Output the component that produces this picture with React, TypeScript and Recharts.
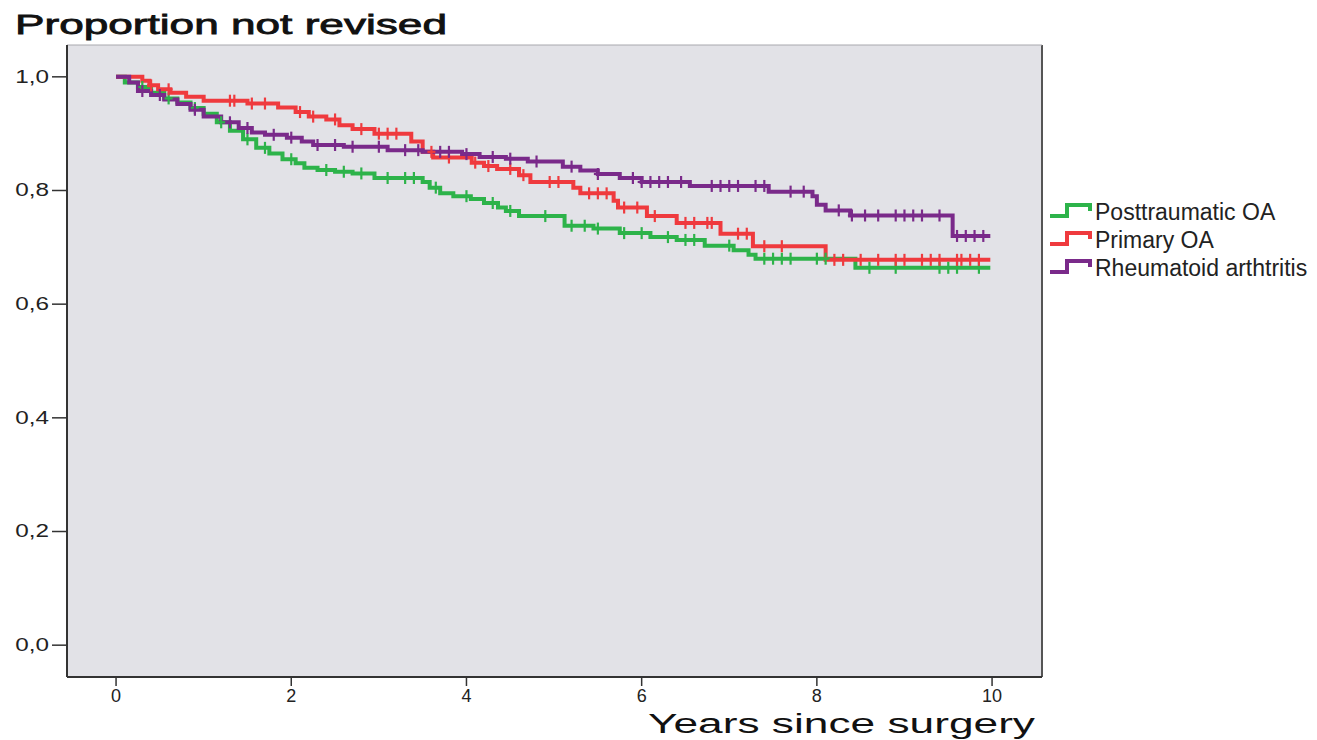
import React from "react";
import {
  ComposedChart,
  Line,
  Scatter,
  XAxis,
  YAxis,
  CartesianGrid,
  ReferenceLine,
} from "recharts";

// Kaplan-Meier steps: time of each drop (years) and survival after it
const ptTimes = [0, 0.1, 0.25, 0.4, 0.55, 0.7, 0.85, 1.0, 1.15, 1.3, 1.45, 1.6, 1.75, 1.9, 2.05, 2.15, 2.3, 2.5, 2.7, 2.95, 3.5, 3.58, 3.7, 3.85, 4.05, 4.2, 4.36, 4.45, 4.6, 5.12, 5.45, 5.75, 6.1, 6.4, 6.72, 7.05, 7.22, 7.3, 8.44];
const ptSurv = [1.0, 0.99, 0.982, 0.972, 0.962, 0.955, 0.945, 0.935, 0.92, 0.905, 0.89, 0.875, 0.865, 0.855, 0.848, 0.84, 0.836, 0.833, 0.83, 0.822, 0.815, 0.805, 0.795, 0.79, 0.785, 0.778, 0.77, 0.764, 0.755, 0.738, 0.733, 0.725, 0.718, 0.713, 0.703, 0.695, 0.687, 0.68, 0.664];
const ptCensor = [0.3, 0.6, 0.9, 1.2, 1.5, 1.7, 2.0, 2.4, 2.6, 2.8, 3.1, 3.3, 3.4, 3.65, 4.0, 4.3, 4.5, 4.9, 5.2, 5.35, 5.5, 5.8, 6.0, 6.3, 6.5, 6.6, 7.0, 7.4, 7.5, 7.6, 7.7, 8.0, 8.1, 8.6, 8.9, 9.4, 9.5, 9.6, 9.85];

const poTimes = [0, 0.3, 0.38, 0.48, 0.62, 0.8, 1.0, 1.5, 1.85, 2.05, 2.2, 2.4, 2.55, 2.7, 2.95, 3.37, 3.5, 3.62, 4.06, 4.2, 4.35, 4.6, 4.73, 5.22, 5.3, 5.68, 5.73, 6.06, 6.4, 6.9, 7.27, 8.1];
const poSurv = [1.0, 0.993, 0.985, 0.978, 0.972, 0.965, 0.958, 0.953, 0.946, 0.938, 0.93, 0.925, 0.915, 0.908, 0.9, 0.886, 0.868, 0.858, 0.849, 0.843, 0.838, 0.827, 0.815, 0.805, 0.795, 0.782, 0.77, 0.755, 0.743, 0.724, 0.702, 0.678];
const poCensor = [0.4, 0.6, 1.3, 1.35, 1.55, 1.7, 2.1, 2.25, 2.5, 2.8, 3.0, 3.1, 3.2, 3.6, 3.8, 4.1, 4.25, 4.5, 4.65, 4.95, 5.05, 5.4, 5.5, 5.6, 5.8, 5.95, 6.15, 6.5, 6.6, 6.75, 6.8, 7.1, 7.2, 7.4, 7.6, 8.2, 8.3, 8.5, 8.7, 8.9, 9.0, 9.2, 9.3, 9.4, 9.6, 9.65, 9.75, 9.85];

const raTimes = [0, 0.15, 0.25, 0.4, 0.55, 0.7, 0.85, 1.0, 1.2, 1.4, 1.55, 1.7, 1.95, 2.12, 2.25, 2.6, 3.1, 3.5, 3.95, 4.15, 4.45, 4.7, 5.1, 5.3, 5.5, 5.75, 6.0, 6.55, 7.45, 7.95, 8.0, 8.1, 8.38, 9.55];
const raSurv = [1.0, 0.99, 0.975, 0.968, 0.96, 0.952, 0.942, 0.93, 0.92, 0.91, 0.902, 0.898, 0.893, 0.886, 0.88, 0.877, 0.871, 0.868, 0.864, 0.859, 0.856, 0.851, 0.842, 0.835, 0.829, 0.822, 0.815, 0.808, 0.798, 0.79, 0.775, 0.765, 0.756, 0.72];
const raCensor = [0.3, 0.5, 0.9, 1.3, 1.5, 1.8, 2.0, 2.3, 2.5, 2.7, 3.0, 3.3, 3.45, 3.7, 3.8, 4.0, 4.3, 4.5, 4.8, 5.2, 5.5, 5.9, 6.0, 6.1, 6.2, 6.3, 6.45, 6.8, 6.9, 7.0, 7.1, 7.3, 7.4, 7.7, 7.85, 8.25, 8.4, 8.55, 8.7, 8.9, 9.0, 9.1, 9.2, 9.4, 9.6, 9.7, 9.8, 9.9];

const endTime = 9.98;
const xTicks = [0, 2, 4, 6, 8, 10];
const yTicks = [0, 0.2, 0.4, 0.6, 0.8, 1.0];
const seriesNames = ["Posttraumatic OA", "Primary OA", "Rheumatoid arthtritis"];
const seriesColors = ["#2DB34A", "#EF3A3E", "#7A2A8A"];

const X_MIN = -0.56;
const X_MAX = 10.57;
const Y_MIN = -0.056;
const Y_MAX = 1.056;

const toSteps = (times: number[], surv: number[]) => [
  ...times.map((t, i) => ({ t, s: surv[i] })),
  { t: endTime, s: surv[surv.length - 1] },
];

const toCensor = (times: number[], surv: number[], cens: number[]) =>
  cens.map((c) => {
    let i = 0;
    while (i + 1 < times.length && times[i + 1] <= c) i++;
    return { t: c, s: surv[i] };
  });

const series = [
  { steps: toSteps(ptTimes, ptSurv), censor: toCensor(ptTimes, ptSurv, ptCensor) },
  { steps: toSteps(poTimes, poSurv), censor: toCensor(poTimes, poSurv, poCensor) },
  { steps: toSteps(raTimes, raSurv), censor: toCensor(raTimes, raSurv, raCensor) },
];

const tickFont = "'Liberation Sans', Arial, sans-serif";

const CensorMark = (color: string) => (props: any) => {
  const { cx, cy } = props;
  if (cx == null || cy == null) return null;
  return (
    <g>
      <line x1={cx} x2={cx} y1={cy - 6} y2={cy + 6} stroke={color} strokeWidth={2.2} />
      <line x1={cx - 4} x2={cx + 4} y1={cy} y2={cy} stroke={color} strokeWidth={2.2} />
    </g>
  );
};

const YTick = (props: any) => {
  const { x, y, payload } = props;
  return (
    <text
      transform={`translate(${x},${y}) scale(1.35,1)`}
      textAnchor="end"
      dominantBaseline="central"
      fontSize={18}
      fontFamily={tickFont}
      fill="#222"
    >
      {payload.value.toFixed(1).replace(".", ",")}
    </text>
  );
};

const XTick = (props: any) => {
  const { x, y, payload } = props;
  return (
    <text x={x} y={y} dy="0.71em" textAnchor="middle" fontSize={18} fontFamily={tickFont} fill="#222">
      {payload.value}
    </text>
  );
};

export default function App() {
  return (
    <div style={{ position: "absolute", left: 0, top: 0, width: 1317, height: 740, background: "#fff" }}>
      <ComposedChart width={1317} height={740} margin={{ top: 45, right: 275, bottom: 0, left: 0 }}>
        <CartesianGrid horizontal={false} vertical={false} fill="#E2E2E7" />
        <XAxis
          type="number"
          dataKey="t"
          domain={[X_MIN, X_MAX]}
          allowDataOverflow
          ticks={xTicks}
          height={63}
          tickSize={9}
          tickMargin={3}
          tick={<XTick />}
          axisLine={{ stroke: "#333", strokeWidth: 2 }}
          tickLine={{ stroke: "#333", strokeWidth: 1.5 }}
        />
        <YAxis
          type="number"
          dataKey="s"
          domain={[Y_MIN, Y_MAX]}
          allowDataOverflow
          ticks={yTicks}
          width={67}
          tickSize={15}
          tickMargin={3}
          tick={<YTick />}
          axisLine={{ stroke: "#333", strokeWidth: 2 }}
          tickLine={{ stroke: "#333", strokeWidth: 1.5 }}
        />
        <ReferenceLine x={X_MAX} stroke="#555" strokeWidth={2} />
        <ReferenceLine y={Y_MAX} stroke="#A8A8AE" strokeWidth={1} />
        {series.map((sr, i) => (
          <Line
            key={`line-${i}`}
            data={sr.steps}
            dataKey="s"
            type="stepAfter"
            stroke={seriesColors[i]}
            strokeWidth={4}
            dot={false}
            activeDot={false}
            isAnimationActive={false}
          />
        ))}
        {series.map((sr, i) => (
          <Scatter
            key={`cens-${i}`}
            data={sr.censor}
            dataKey="s"
            shape={CensorMark(seriesColors[i])}
            isAnimationActive={false}
          />
        ))}
      </ComposedChart>
      <svg
        width={1317}
        height={740}
        style={{ position: "absolute", left: 0, top: 0, pointerEvents: "none" }}
      >
        <text
          x={15}
          y={34}
          fontSize={28}
          fontFamily={tickFont}
          fill="#111"
          stroke="#111"
          strokeWidth={0.8}
          textLength={432}
          lengthAdjust="spacingAndGlyphs"
        >
          Proportion not revised
        </text>
        <text
          x={648}
          y={733}
          fontSize={27}
          fontFamily={tickFont}
          fill="#111"
          textLength={387}
          lengthAdjust="spacingAndGlyphs"
        >
          Years since surgery
        </text>
        {seriesNames.map((name, i) => {
          const base = 220 + i * 28;
          return (
            <g key={name}>
              <path
                d={`M1050,${base - 4} H1067 V${base - 15} H1090 V${base - 9}`}
                fill="none"
                stroke={seriesColors[i]}
                strokeWidth={4}
              />
              <text x={1095} y={base} fontSize={23} fontFamily={tickFont} fill="#222">
                {name}
              </text>
            </g>
          );
        })}
      </svg>
    </div>
  );
}
